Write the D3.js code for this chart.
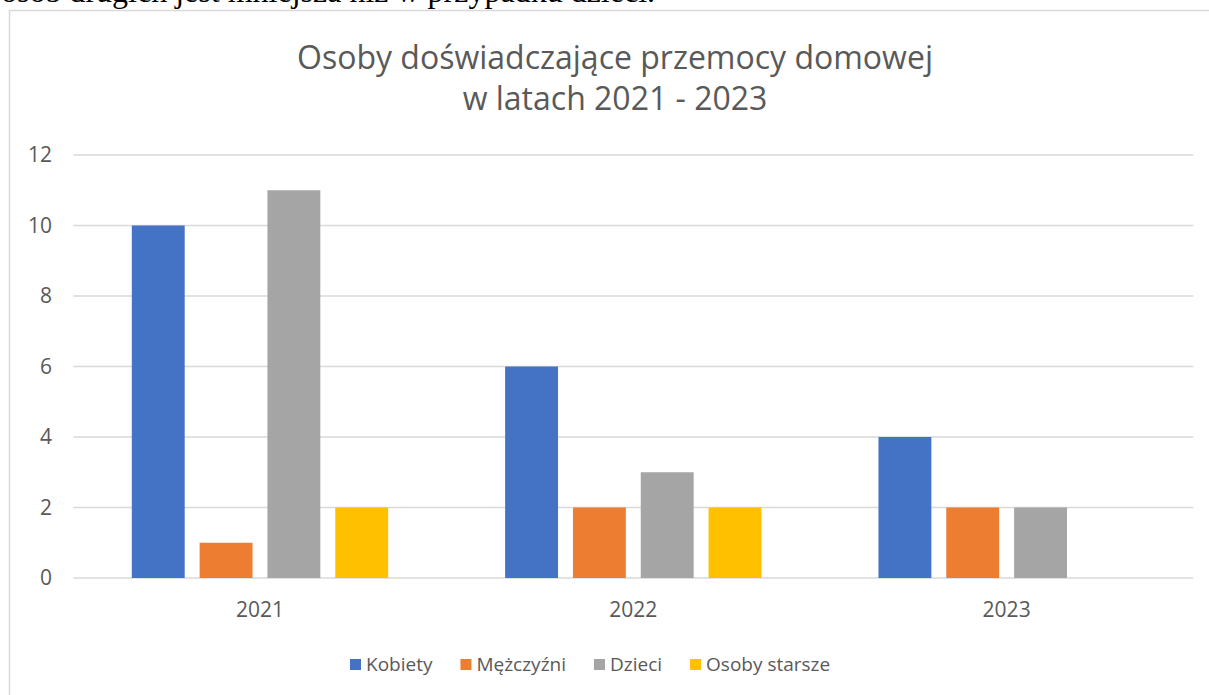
<!DOCTYPE html>
<html>
<head>
<meta charset="utf-8">
<script src="https://cdn.jsdelivr.net/npm/d3@7"></script>
<style>
  body { margin: 0; background: #fff; }
  svg { display: block; }
</style>
</head>
<body>
<div id="chart"></div>
<script>
var years = ["2021", "2022", "2023"];
var seriesNames = ["Kobiety", "Mężczyźni", "Dzieci", "Osoby starsze"];
var kobiety = [10, 6, 4];
var mezczyzni = [1, 2, 2];
var dzieci = [11, 3, 2];
var starsze = [2, 2, 0];
var yTicks = [0, 2, 4, 6, 8, 10, 12];
var colors = ["#4472C4", "#ED7D31", "#A5A5A5", "#FFC000"];

var width = 1209, height = 695;
var font = "'Open Sans', sans-serif";
var textColor = "#595959";

var svg = d3.select("#chart").append("svg")
  .attr("width", width)
  .attr("height", height);

// clipped line of the document text above the chart
svg.append("text")
  .attr("x", 1)
  .attr("y", 1.5)
  .style("font-family", "'Liberation Serif', 'Times New Roman', serif")
  .style("font-size", "32px")
  .attr("fill", "#000")
  .text("osób drugich jest mniejsza niż w przypadku dzieci.");

// chart frame
svg.append("rect")
  .attr("x", 9.5)
  .attr("y", 10.5)
  .attr("width", width + 20)
  .attr("height", height + 20)
  .attr("fill", "#fff")
  .attr("stroke", "#d9d9d9")
  .attr("stroke-width", 1.5);

// title, two lines
var title = svg.append("g")
  .style("font-family", font)
  .style("font-size", "32px")
  .attr("fill", textColor)
  .attr("text-anchor", "middle");
title.append("text").attr("x", 615).attr("y", 69).text("Osoby doświadczające przemocy domowej");
title.append("text").attr("x", 615).attr("y", 110).text("w latach 2021 - 2023");

var plotLeft = 73.3, plotRight = 1193.3;

var x0 = d3.scaleBand()
  .domain(years)
  .range([plotLeft, plotRight]);

var x1 = d3.scaleBand()
  .domain(seriesNames)
  .range([58.5, x0.bandwidth() - 58.5])
  .paddingInner(0.22);

var y = d3.scaleLinear()
  .domain([0, 12])
  .range([578, 155]);

// gridlines
svg.append("g")
  .selectAll("line")
  .data(yTicks)
  .enter().append("line")
    .attr("x1", plotLeft)
    .attr("x2", plotRight)
    .attr("y1", function(d) { return y(d); })
    .attr("y2", function(d) { return y(d); })
    .attr("stroke", "#d9d9d9")
    .attr("stroke-width", 1.5);

// y labels
svg.append("g")
  .selectAll("text")
  .data(yTicks)
  .enter().append("text")
    .attr("x", 52)
    .attr("y", function(d) { return y(d); })
    .attr("dy", "0.35em")
    .attr("text-anchor", "end")
    .style("font-family", font)
    .style("font-size", "21px")
    .attr("fill", textColor)
    .text(function(d) { return d; });

var allSeries = [kobiety, mezczyzni, dzieci, starsze];

var groups = svg.append("g")
  .selectAll("g")
  .data(years)
  .enter().append("g")
    .attr("transform", function(d) { return "translate(" + x0(d) + ",0)"; });

groups.selectAll("rect")
  .data(function(d, i) {
    return seriesNames.map(function(s, j) { return {name: s, value: allSeries[j][i], color: colors[j]}; });
  })
  .enter().append("rect")
    .attr("x", function(d) { return x1(d.name); })
    .attr("y", function(d) { return y(d.value); })
    .attr("width", x1.bandwidth())
    .attr("height", function(d) { return y(0) - y(d.value); })
    .attr("fill", function(d) { return d.color; });

// x labels
svg.append("g")
  .selectAll("text")
  .data(years)
  .enter().append("text")
    .attr("x", function(d) { return x0(d) + x0.bandwidth() / 2; })
    .attr("y", 617)
    .attr("text-anchor", "middle")
    .style("font-family", font)
    .style("font-size", "21px")
    .attr("fill", textColor)
    .text(function(d) { return d; });

// legend
var legend = svg.append("g");
var lx = 350;
seriesNames.forEach(function(s, i) {
  legend.append("rect")
    .attr("x", lx)
    .attr("y", 659)
    .attr("width", 11)
    .attr("height", 11)
    .attr("fill", colors[i]);
  var t = legend.append("text")
    .attr("x", lx + 16)
    .attr("y", 670.5)
    .style("font-family", font)
    .style("font-size", "19px")
    .attr("fill", textColor)
    .text(s);
  lx += 16 + t.node().getComputedTextLength() + 28;
});
</script>
</body>
</html>
